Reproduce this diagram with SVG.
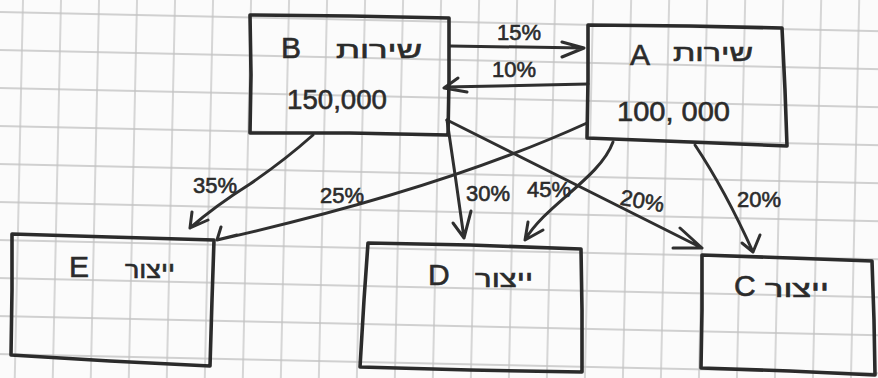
<svg xmlns="http://www.w3.org/2000/svg" width="878" height="378" viewBox="0 0 878 378">
<defs>
<pattern id="grid" width="38" height="38" patternUnits="userSpaceOnUse" patternTransform="rotate(1.25)">
<path d="M23,0 V38 M0,12 H38" stroke="#c2c2c2" stroke-width="1.3" fill="none"/>
</pattern>
<style>
.box{fill:none;stroke:#2b2b2b;stroke-width:3.6;stroke-linejoin:round;stroke-linecap:round}
.ln{fill:none;stroke:#2f2f2f;stroke-width:3;stroke-linecap:round;stroke-linejoin:round}
.t{font-family:"Liberation Sans","DejaVu Sans",sans-serif;fill:#2b2b2b;stroke:#2b2b2b;stroke-width:0.6}
.big{font-size:30px}
.num{font-size:28px}
.heb{font-size:24px}
.pct{font-size:22px}
</style>
</defs>
<rect width="878" height="378" fill="#fbfbfb"/>
<rect width="878" height="378" fill="url(#grid)"/>

<g id="connectors">
<!-- B -> A 15% -->
<path class="ln" d="M450,46 L584,48 M562,42 L584,48 L562,57"/>
<text class="t pct" x="497" y="40">15%</text>
<!-- A -> B 10% -->
<path class="ln" d="M588,84 L445,87 M458,78 L444,88 L467,92"/>
<text class="t pct" x="492" y="77">10%</text>
<!-- B -> E 35% -->
<path class="ln" d="M313,135 Q285,160 250,184 Q215,206 190,228 M192,212 L190,228 L208,220"/>
<text class="t pct" x="193" y="193">35%</text>
<!-- A -> E 25% -->
<path class="ln" d="M587,123 Q440,190 217,240 M221,227 L217,240 L237,235"/>
<text class="t pct" x="320" y="203">25%</text>
<!-- B -> D 30% -->
<path class="ln" d="M447,120 Q456,180 464,238 M453,223 L464,238 L471,211"/>
<text class="t pct" x="466" y="201">30%</text>
<!-- A -> D 45% -->
<path class="ln" d="M613,142 C600,178 545,205 525,240 M528,222 L525,240 L543,230"/>
<text class="t pct" x="527" y="197">45%</text>
<!-- B -> C 20% -->
<path class="ln" d="M447,120 L702,248 M680,228 L702,248 L673,248"/>
<text class="t pct" x="620" y="209" transform="rotate(10 645 203)">20%</text>
<!-- A -> C 20% -->
<path class="ln" d="M695,145 Q725,190 753,252 M742,243 L753,252 L760,235"/>
<text class="t pct" x="737" y="207">20%</text>
</g>

<g id="node-B">
<path class="box" d="M250,15 L350,16 L449,18 L449,80 L448,135 L350,133 L250,133 L251,75 Z"/>
<text class="t big" x="281" y="58">B</text>
<text class="t heb" x="379" y="58" text-anchor="middle" textLength="86" lengthAdjust="spacingAndGlyphs">שירות</text>
<text class="t num" x="287" y="109" textLength="100" lengthAdjust="spacingAndGlyphs">150,000</text>
</g>

<g id="node-A">
<path class="box" d="M588,25 L690,26 L782,28 L785,90 L787,146 L690,142 L587,138 L588,80 Z"/>
<text class="t big" x="630" y="65">A</text>
<text class="t heb" x="713" y="61" text-anchor="middle" textLength="80" lengthAdjust="spacingAndGlyphs">שירות</text>
<text class="t num" x="617" y="121" textLength="113" lengthAdjust="spacingAndGlyphs">100, 000</text>
</g>

<g id="node-E">
<path class="box" d="M12,234 L110,237 L214,240 L212,300 L210,366 L110,361 L11,355 L12,290 Z"/>
<text class="t big" x="69" y="277">E</text>
<text class="t heb" x="150" y="278" text-anchor="middle" textLength="50" lengthAdjust="spacingAndGlyphs">ייצור</text>
</g>

<g id="node-D">
<path class="box" d="M368,243 L470,245 L581,249 L582,310 L582,372 L470,370 L360,367 L364,300 Z"/>
<text class="t big" x="428" y="285">D</text>
<text class="t heb" x="504" y="287" text-anchor="middle" textLength="58" lengthAdjust="spacingAndGlyphs">ייצור</text>
</g>

<g id="node-C">
<path class="box" d="M702,255 L790,258 L872,261 L874,320 L875,375 L790,371 L701,368 L702,310 Z"/>
<text class="t big" x="734" y="296">C</text>
<text class="t heb" x="797" y="297" text-anchor="middle" textLength="64" lengthAdjust="spacingAndGlyphs">ייצור</text>
</g>
</svg>
